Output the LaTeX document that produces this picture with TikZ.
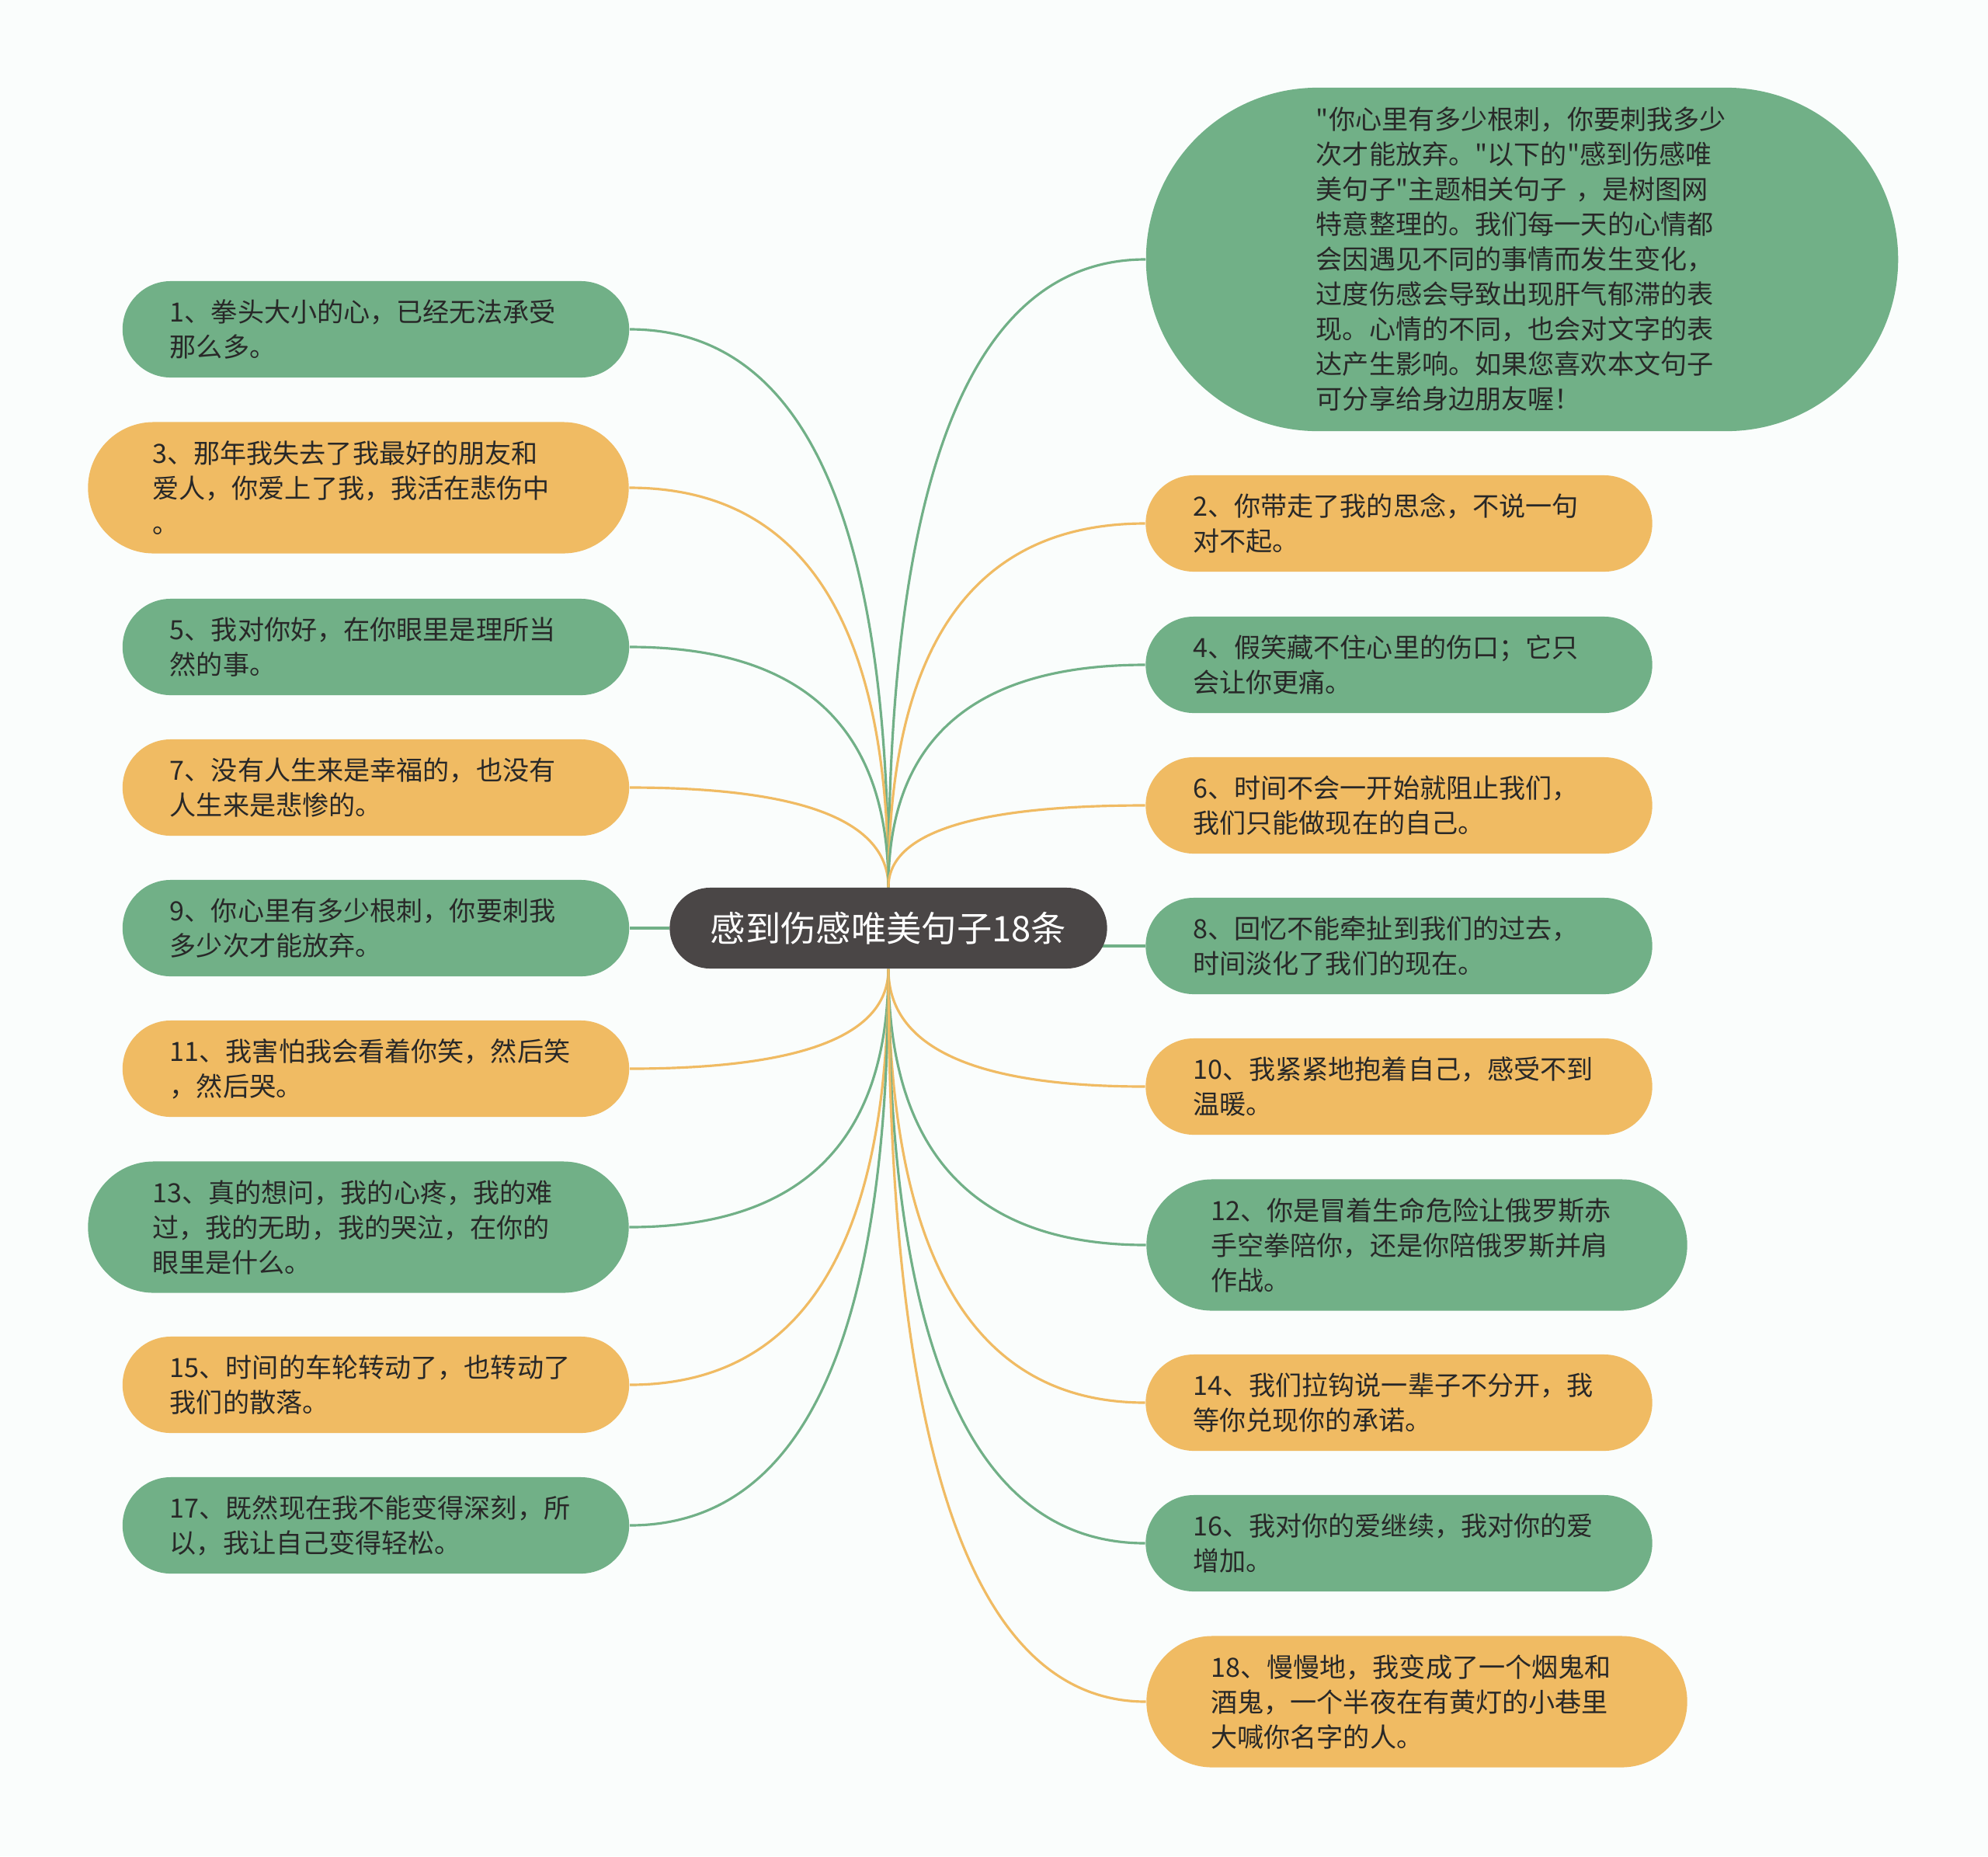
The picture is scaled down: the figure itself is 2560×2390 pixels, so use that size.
\documentclass[tikz,border=0pt]{standalone}
\usepackage{fontspec}
\setmainfont{Noto Sans CJK SC}[Ligatures=TeXOff]
\usetikzlibrary{calc,backgrounds}
\definecolor{leafgreen}{RGB}{113,176,135}
\definecolor{leaforange}{RGB}{240,187,99}
\definecolor{hubgray}{RGB}{74,70,70}
\definecolor{inkdark}{RGB}{40,40,40}
\definecolor{paper}{RGB}{250,253,252}
\tikzset{
  leaf/.style={align=left, text width=5.3cm, inner ysep=0pt, text=inkdark,
    font=\fontsize{9.7pt}{12.8pt}\selectfont},
  short/.style={leaf, minimum height=1.24cm, rounded corners=0.62cm, inner xsep=0.61cm},
  tall/.style={leaf, minimum height=1.69cm, rounded corners=0.845cm, inner xsep=0.83cm},
  gbox/.style={fill=leafgreen},
  obox/.style={fill=leaforange},
  hub/.style={fill=hubgray, text=white, rounded corners=0.52cm, inner sep=0pt,
    minimum width=5.63cm, minimum height=1.04cm, font=\fontsize{12.9pt}{15pt}\selectfont},
  gline/.style={draw=leafgreen, line width=0.9pt},
  oline/.style={draw=leaforange, line width=0.9pt},
  branch/.style={to path={.. controls ($(\tikztostart)!2/3!(\tikztostart |- \tikztotarget)$)
    and ($(\tikztotarget)!2/3!(\tikztostart |- \tikztotarget)$) .. (\tikztotarget)}}
}
\begin{document}
\begin{tikzpicture}[x=0.01cm, y=-0.01cm]
  \node[hub] (hub) at (1144,1195) {感到伤感唯美句子18条};

  \node[short,gbox] (n1) at (484,424) {1、拳头大小的心，已经无法承受\\那么多。};
  \node[tall,obox] (n3) at (461.5,628) {3、那年我失去了我最好的朋友和\\爱人，你爱上了我，我活在悲伤中\\。};
  \node[short,gbox] (n5) at (484,833) {5、我对你好，在你眼里是理所当\\然的事。};
  \node[short,obox] (n7) at (484,1014) {7、没有人生来是幸福的，也没有\\人生来是悲惨的。};
  \node[short,gbox] (n9) at (484,1195) {9、你心里有多少根刺，你要刺我\\多少次才能放弃。};
  \node[short,obox] (n11) at (484,1376) {11、我害怕我会看着你笑，然后笑\\，然后哭。};
  \node[tall,gbox] (n13) at (461.5,1580) {13、真的想问，我的心疼，我的难\\过，我的无助，我的哭泣，在你的\\眼里是什么。};
  \node[short,obox] (n15) at (484,1783) {15、时间的车轮转动了，也转动了\\我们的散落。};
  \node[short,gbox] (n17) at (484,1964) {17、既然现在我不能变得深刻，所\\以，我让自己变得轻松。};

  \node[leaf,gbox,minimum height=4.42cm,rounded corners=2.21cm,inner xsep=2.19cm] (ntop) at (1960,334)
    {"你心里有多少根刺，你要刺我多少\\次才能放弃。"以下的"感到伤感唯\\美句子"主题相关句子 ，是树图网\\特意整理的。我们每一天的心情都\\会因遇见不同的事情而发生变化，\\过度伤感会导致出现肝气郁滞的表\\现。心情的不同，也会对文字的表\\达产生影响。如果您喜欢本文句子\\可分享给身边朋友喔！};
  \node[short,obox] (n2) at (1801.5,674) {2、你带走了我的思念，不说一句\\对不起。};
  \node[short,gbox] (n4) at (1801.5,856) {4、假笑藏不住心里的伤口；它只\\会让你更痛。};
  \node[short,obox] (n6) at (1801.5,1037) {6、时间不会一开始就阻止我们，\\我们只能做现在的自己。};
  \node[short,gbox] (n8) at (1801.5,1218) {8、回忆不能牵扯到我们的过去，\\时间淡化了我们的现在。};
  \node[short,obox] (n10) at (1801.5,1399) {10、我紧紧地抱着自己，感受不到\\温暖。};
  \node[tall,gbox] (n12) at (1824.5,1603) {12、你是冒着生命危险让俄罗斯赤\\手空拳陪你，还是你陪俄罗斯并肩\\作战。};
  \node[short,obox] (n14) at (1801.5,1806) {14、我们拉钩说一辈子不分开，我\\等你兑现你的承诺。};
  \node[short,gbox] (n16) at (1801.5,1987) {16、我对你的爱继续，我对你的爱\\增加。};
  \node[tall,obox] (n18) at (1824.5,2191) {18、慢慢地，我变成了一个烟鬼和\\酒鬼，一个半夜在有黄灯的小巷里\\大喊你名字的人。};

  \begin{scope}[on background layer]
    \fill[paper] (0,0) rectangle (2560,2390);
    \foreach \t/\l in {n1.east/gline,n3.east/oline,n5.east/gline,n7.east/oline,
        ntop.west/gline,n2.west/oline,n4.west/gline,n6.west/oline}
      \draw[\l] (hub.north) to[branch] (\t);
    \foreach \t/\l in {n11.east/oline,n13.east/gline,n15.east/oline,n17.east/gline,
        n10.west/oline,n12.west/gline,n14.west/oline,n16.west/gline,n18.west/oline}
      \draw[\l] (hub.south) to[branch] (\t);
    \draw[gline] (hub.west) -- (n9.east);
    \draw[gline] (hub.center |- n8.west) -- (n8.west);
  \end{scope}
\end{tikzpicture}
\end{document}
